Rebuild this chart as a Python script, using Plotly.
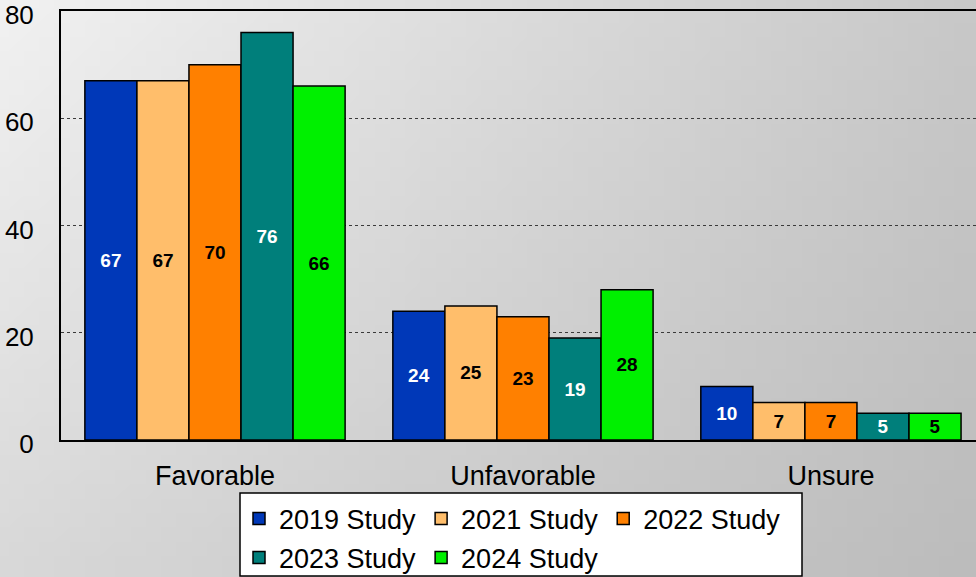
import base64
import struct
import zlib
import plotly.graph_objects as go

# ---- data ----
categories = ["Favorable", "Unfavorable", "Unsure"]
series_names = ["2019 Study", "2021 Study", "2022 Study", "2023 Study", "2024 Study"]
values_2019 = [67, 24, 10]
values_2021 = [67, 25, 7]
values_2022 = [70, 23, 7]
values_2023 = [76, 19, 5]
values_2024 = [66, 28, 5]
y_ticks = [0, 20, 40, 60, 80]

series_values = [values_2019, values_2021, values_2022, values_2023, values_2024]
colors = ["#0038B8", "#FFBE6B", "#FF8000", "#007F7B", "#00F000"]
text_colors = ["white", "black", "black", "white", "black"]
legend_ids = ["legend", "legend", "legend", "legend2", "legend2"]

W, H = 976, 577
ML, MR, MT, MB = 61, 0, 11, 137
PW, PH = W - ML - MR, H - MT - MB


def gradient_png(w=64, h=40):
    tl, tr, bl, br = 241, 200, 216, 188
    raw = b""
    for j in range(h):
        v = j / (h - 1)
        row = bytearray([0])
        for i in range(w):
            u = i / (w - 1)
            top = tl + (tr - tl) * u
            bot = bl + (br - bl) * u
            row.append(int(round(top + (bot - top) * v)))
        raw += bytes(row)

    def chunk(tag, data):
        c = struct.pack(">I", len(data)) + tag + data
        return c + struct.pack(">I", zlib.crc32(tag + data) & 0xFFFFFFFF)

    png = b"\x89PNG\r\n\x1a\n"
    png += chunk(b"IHDR", struct.pack(">IIBBBBB", w, h, 8, 0, 0, 0, 0))
    png += chunk(b"IDAT", zlib.compress(raw, 9))
    png += chunk(b"IEND", b"")
    return "data:image/png;base64," + base64.b64encode(png).decode()


FONT = "Liberation Sans, Arial, sans-serif"

fig = go.Figure()
for name, vals, col, tcol, lg in zip(series_names, series_values, colors, text_colors, legend_ids):
    fig.add_trace(go.Bar(
        name=name,
        x=categories,
        y=vals,
        text=[str(v) for v in vals],
        textposition="inside",
        insidetextanchor="middle",
        textangle=0,
        textfont=dict(family=FONT, size=19, color=tcol, weight="bold"),
        marker=dict(color=col, line=dict(color="black", width=1.5)),
        legend=lg,
        hoverinfo="x+y+name",
    ))

fig.update_layout(
    width=W,
    height=H,
    margin=dict(l=ML, r=MR, t=MT, b=MB, pad=0, autoexpand=False),
    paper_bgcolor="#d6d6d6",
    plot_bgcolor="white",
    barmode="group",
    bargap=0.155,
    bargroupgap=0,
    font=dict(family=FONT, color="black"),
    images=[dict(
        source=gradient_png(),
        xref="paper", yref="paper",
        x=-ML / PW, y=1 + MT / PH,
        sizex=W / PW, sizey=H / PH,
        xanchor="left", yanchor="top",
        sizing="stretch", layer="below",
    )],
    xaxis=dict(
        range=[-0.5, 2.471],
        automargin=False,
        showline=True, linecolor="black", linewidth=2, mirror=True,
        showgrid=False, zeroline=False, ticks="",
        tickfont=dict(family=FONT, size=27, color="black"),
        ticklabelstandoff=11,
        fixedrange=True,
    ),
    yaxis=dict(
        range=[0, 80],
        tickvals=y_ticks,
        automargin=False,
        showline=True, linecolor="black", linewidth=2,
        showgrid=True, gridcolor="#3a3a3a", gridwidth=1, griddash="3px,3px",
        zeroline=False, ticks="",
        tickfont=dict(family=FONT, size=26, color="black"),
        ticklabelstandoff=20,
        ticklabelshift=4,
        ticklabeloverflow="allow",
        fixedrange=True,
    ),
    legend=dict(
        orientation="h",
        x=(239 - ML) / PW, xanchor="left",
        y=(MT + PH - 519) / PH, yanchor="middle",
        bgcolor="rgba(0,0,0,0)", borderwidth=0,
        font=dict(family=FONT, size=27, color="black"),
        itemclick=False, itemdoubleclick=False,
    ),
    legend2=dict(
        orientation="h",
        x=(239 - ML) / PW, xanchor="left",
        y=(MT + PH - 558) / PH, yanchor="middle",
        bgcolor="rgba(0,0,0,0)", borderwidth=0,
        font=dict(family=FONT, size=27, color="black"),
        itemclick=False, itemdoubleclick=False,
    ),
    shapes=[dict(
        type="rect", xref="paper", yref="paper",
        x0=(240 - ML) / PW, x1=(802 - ML) / PW,
        y0=(MT + PH - 576) / PH, y1=(MT + PH - 493) / PH,
        line=dict(color="black", width=1.5),
        fillcolor="white", layer="above",
    )],
)

page_css = (
    "var s=document.createElement('style');"
    "s.textContent='html,body{margin:0;padding:0;overflow:hidden;width:976px;height:577px;}"
    "body>div{margin:0;padding:0;line-height:0;font-size:0;height:577px;overflow:hidden;}';"
    "document.head.appendChild(s);"
)

fig.write_html(
    "out.html",
    config={"displayModeBar": False, "responsive": False},
    post_script=page_css,
)
